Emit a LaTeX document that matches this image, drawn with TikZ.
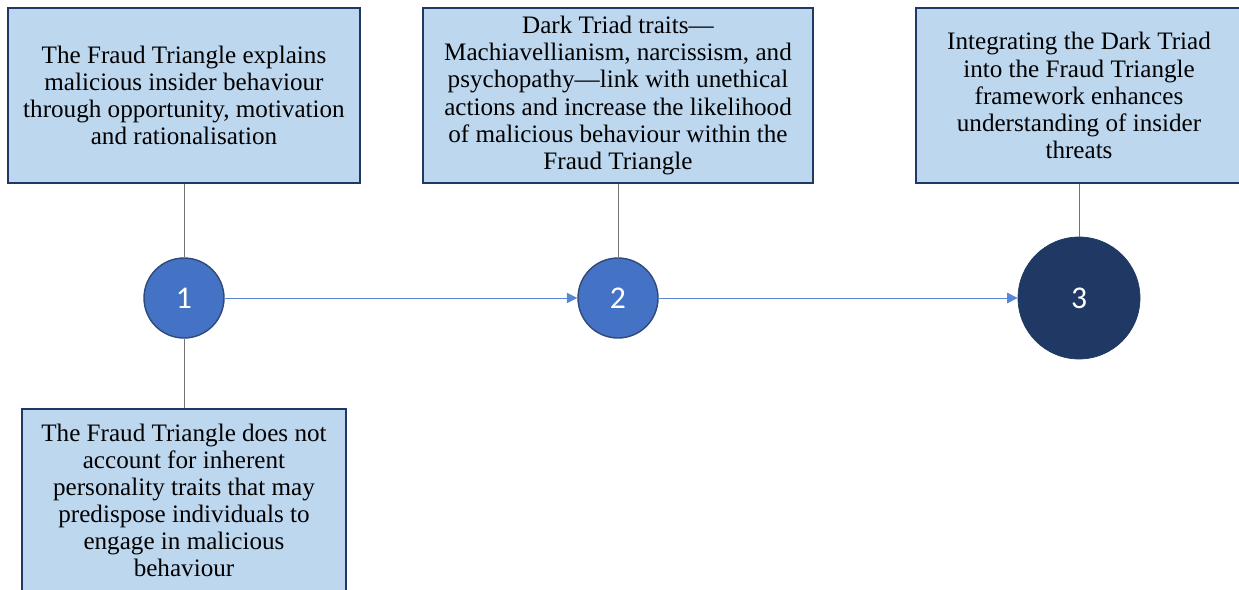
\documentclass[tikz,border=0pt]{standalone}
\usepackage{fontspec}
\setmainfont{Liberation Serif}
\newfontfamily\numfont{Carlito}
\usetikzlibrary{arrows.meta}
\definecolor{boxfill}{HTML}{BDD7EE}
\definecolor{boxline}{HTML}{203864}
\definecolor{stepfill}{HTML}{4472C4}
\definecolor{stepline}{HTML}{2F4A78}
\definecolor{lastfill}{HTML}{1F3864}
\definecolor{arrowblue}{HTML}{5B86D4}

\begin{document}
\begin{tikzpicture}[
    infobox/.style={draw=boxline, fill=boxfill, thick, align=center, inner sep=0pt,
        font=\fontsize{14.3}{15.4}\selectfont},
    stepdot/.style={circle, draw=stepline, fill=stepfill, thick, text=white,
        font=\numfont\fontsize{18}{20}\selectfont, minimum size=1.6cm, inner sep=0pt},
    lastdot/.style={circle, draw=lastfill, fill=lastfill, text=white,
        font=\numfont\fontsize{18}{20}\selectfont, minimum size=2.44cm, inner sep=0pt}
]
\clip (0,0) rectangle (24.78,-11.78);
\useasboundingbox (0,0) rectangle (24.78,-11.78);

\node[infobox, minimum width=7.04cm, minimum height=3.5cm] (A) at (3.68,-1.91) {The Fraud Triangle explains\\malicious insider behaviour\\through opportunity, motivation\\and rationalisation};
\node[infobox, minimum width=7.8cm, minimum height=3.5cm] (B) at (12.36,-1.91) {Dark Triad traits---\\Machiavellianism, narcissism, and\\psychopathy---link with unethical\\actions and increase the likelihood\\of malicious behaviour within the\\Fraud Triangle};
\node[infobox, minimum width=6.52cm, minimum height=3.5cm] (C) at (21.58,-1.91) {Integrating the Dark Triad\\into the Fraud Triangle\\framework enhances\\understanding of insider\\threats};
\node[infobox, minimum width=6.48cm, minimum height=3.66cm] (D) at (3.68,-10.01) {The Fraud Triangle does not\\account for inherent\\personality traits that may\\predispose individuals to\\engage in malicious\\behaviour};

\node[stepdot] (s1) at (3.68,-5.96) {1};
\node[stepdot] (s2) at (12.36,-5.96) {2};
\node[lastdot] (s3) at (21.58,-5.96) {3};

\draw[-, gray!90!black] (A) -- (s1);
\draw[-, gray!90!black] (s1) -- (D);
\draw[-, gray!90!black] (B) -- (s2);
\draw[-, gray!90!black] (C) -- (s3);
\draw[-{Triangle[length=6pt,width=6pt]}, arrowblue] (s1) -- (s2);
\draw[-{Triangle[length=6pt,width=6pt]}, arrowblue] (s2) -- (s3);
\end{tikzpicture}
\end{document}
